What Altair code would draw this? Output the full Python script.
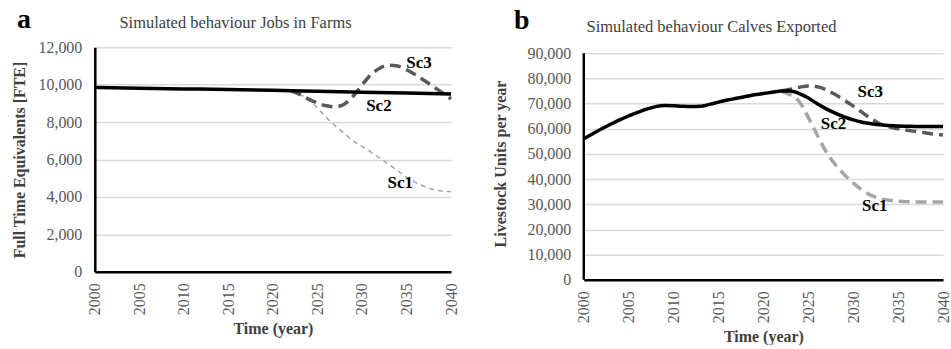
import altair as alt
import pandas as pd

FONT = "Liberation Serif"

# ---------------- Panel a: Jobs in Farms ----------------
a_sc2_years = [2000, 2005, 2010, 2015, 2020, 2025, 2030, 2035, 2040]
a_sc2_values = [9850, 9810, 9775, 9740, 9700, 9650, 9600, 9550, 9505]

a_sc3_years = list(range(2022, 2041))
a_sc3_values = [9680, 9480, 9230, 9020, 8870, 8820, 8960, 9380, 9980, 10540,
                10880, 11040, 11000, 10800, 10530, 10220, 9900, 9570, 9240]

a_sc1_years = list(range(2022, 2041))
a_sc1_values = [9680, 9480, 9200, 8750, 8250, 7800, 7400, 7000, 6700, 6400,
                6070, 5750, 5400, 5050, 4780, 4560, 4400, 4310, 4280]

a_label_text = ["Sc3", "Sc2", "Sc1"]
a_label_year = [2036.4, 2031.9, 2034.3]
a_label_value = [11150, 8880, 4740]

a_y_ticks = [0, 2000, 4000, 6000, 8000, 10000, 12000]

# ---------------- Panel b: Calves Exported ----------------
b_sc2_years = list(range(2000, 2041))
b_sc2_values = [56000, 58000, 60000, 61800, 63500, 65100, 66500, 67800, 68800, 69200,
                69100, 68900, 68800, 68900, 69700, 70600, 71400, 72100, 72800, 73500,
                74000, 74500, 75000, 75000, 74000, 72200, 69900, 67900, 66200, 64700,
                63500, 62600, 62000, 61600, 61300, 61100, 61000, 60900, 60900, 60900,
                60900]

b_sc3_years = list(range(2022, 2041))
b_sc3_values = [75000, 75700, 76500, 77000, 76700, 75500, 73600, 71400, 69000, 66500,
                64000, 62000, 60800, 60000, 59400, 58900, 58400, 57900, 57500]

b_sc1_years = list(range(2022, 2041))
b_sc1_values = [75000, 73500, 70800, 64500, 57500, 50800, 45800, 41800, 38500, 35600,
                33500, 32300, 31600, 31200, 31000, 30900, 30900, 30900, 30900]

b_label_text = ["Sc3", "Sc2", "Sc1"]
b_label_year = [2031.9, 2027.8, 2032.4]
b_label_value = [74480, 61900, 29480]

b_y_ticks = [0, 10000, 20000, 30000, 40000, 50000, 60000, 70000, 80000, 90000]

x_ticks = [2000, 2005, 2010, 2015, 2020, 2025, 2030, 2035, 2040]


def series_df(years, values, name):
    return pd.DataFrame({"year": years, "value": values, "series": name})


def make_panel(sc1, sc2, sc3, labels, letter, title, ytitle, ytop, ydomain_max, yticks,
               width, height, letter_x, letter_y, title_x, title_y,
               sc1_width, sc1_dash, ytitle_pad, use_rule):
    x = alt.X("year:Q",
              scale=alt.Scale(domain=[2000, 2040], nice=False, zero=False),
              axis=alt.Axis(values=x_ticks, tickCount=50, format="d", labelAngle=-90,
                            grid=False, ticks=False, domainColor="black", domainWidth=2.5,
                            labelFont=FONT, labelFontSize=16, labelColor="#595959",
                            labelPadding=11, labelOverlap=False,
                            title="Time (year)", titleFont=FONT,
                            titleFontSize=16, titleFontWeight="bold",
                            titleColor="#404040", titlePadding=6))
    yscale = alt.Scale(domain=[0, ydomain_max], nice=False)
    yaxis = alt.Axis(values=yticks, tickCount=50, format=",d", grid=True,
                     gridColor="#d9d9d9", gridWidth=1.5, ticks=False,
                     domain=not use_rule, domainColor="black", domainWidth=2.5,
                     labelFont=FONT, labelFontSize=16, labelColor="#595959",
                     labelPadding=13, labelOverlap=False, title=ytitle,
                     titleFont=FONT, titleFontSize=16, titleFontWeight="bold",
                     titleColor="#404040", titlePadding=ytitle_pad)
    y = alt.Y("value:Q", scale=yscale, axis=yaxis)

    l1 = alt.Chart(sc1).mark_line(color="#a6a6a6", strokeWidth=sc1_width,
                                  strokeDash=sc1_dash, interpolate="monotone").encode(x=x, y=y)
    l3 = alt.Chart(sc3).mark_line(color="#595959", strokeWidth=3.5,
                                  strokeDash=[11, 6], interpolate="monotone").encode(x=x, y=y)
    l2 = alt.Chart(sc2).mark_line(color="black", strokeWidth=3.5,
                                  interpolate="monotone").encode(x=x, y=y)
    lab = alt.Chart(labels).mark_text(font=FONT, fontSize=17, fontWeight="bold",
                                      color="black", align="center",
                                      baseline="middle").encode(
        x=alt.X("year:Q"), y=alt.Y("value:Q"), text="text:N")
    let = alt.Chart(pd.DataFrame({"t": [letter]})).mark_text(
        font=FONT, fontSize=28, fontWeight="bold", color="black", align="left",
        baseline="alphabetic").encode(x=alt.value(letter_x), y=alt.value(letter_y),
                                      text="t:N")
    ttl = alt.Chart(pd.DataFrame({"t": [title]})).mark_text(
        font=FONT, fontSize=16.5, color="#404040", align="center",
        baseline="alphabetic").encode(x=alt.value(title_x), y=alt.value(title_y),
                                      text="t:N")
    layers = [l1, l3, l2]
    if use_rule:
        axis_line = alt.Chart(pd.DataFrame({"year": [2000, 2000], "value": [0, ytop]})).mark_line(
            color="black", strokeWidth=2.5).encode(x=x, y=y)
        layers.append(axis_line)
    layers += [lab, let, ttl]
    return alt.layer(*layers).properties(width=width, height=height)


a_labels = pd.DataFrame({"text": a_label_text, "year": a_label_year, "value": a_label_value})
b_labels = pd.DataFrame({"text": b_label_text, "year": b_label_year, "value": b_label_value})

left = make_panel(series_df(a_sc1_years, a_sc1_values, "Sc1"),
                  series_df(a_sc2_years, a_sc2_values, "Sc2"),
                  series_df(a_sc3_years, a_sc3_values, "Sc3"),
                  a_labels, "a", "Simulated behaviour Jobs in Farms",
                  "Full Time Equivalents [FTE]", 12000, 12000, a_y_ticks,
                  357, 225, -78, -19, 141, -19, 1.5, [5, 4], 10, False)

# right plot area starts 6px lower than the left one: extend its scale upward
right = make_panel(series_df(b_sc1_years, b_sc1_values, "Sc1"),
                   series_df(b_sc2_years, b_sc2_values, "Sc2"),
                   series_df(b_sc3_years, b_sc3_values, "Sc3"),
                   b_labels, "b", "Simulated behaviour Calves Exported",
                   "Livestock Units per year", 90000, 90000 * 233 / 227, b_y_ticks,
                   360, 233, -70, -18, 128, -15, 3.5, [11, 6], 18, True)

chart = alt.hconcat(left, right, spacing=34).properties(
    padding={"left": 12, "top": 6, "right": 0, "bottom": 0}
).configure_view(stroke=None).configure_axis(
    labelFont=FONT, titleFont=FONT
).configure_text(font=FONT)

chart.save("out.html", embed_options={"renderer": "svg", "actions": False})
